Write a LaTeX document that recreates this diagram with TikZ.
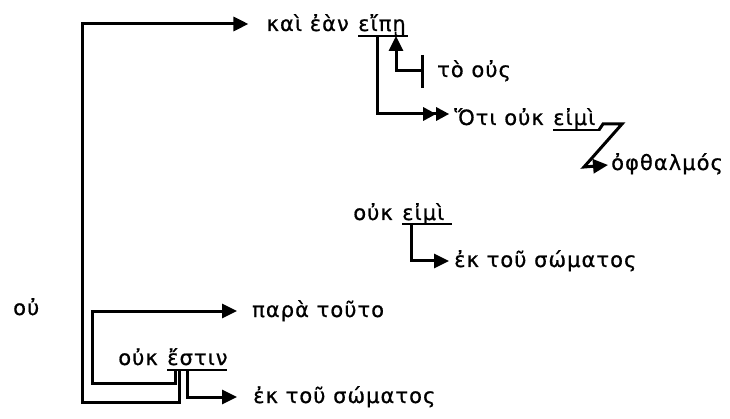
\documentclass[tikz,border=0pt]{standalone}
\usepackage{fontspec}
\setmainfont[LetterSpace=5,FakeBold=0.8]{DejaVu Sans}
\usetikzlibrary{arrows.meta,calc}
\begin{document}
\begin{tikzpicture}[x=1pt,y=-1pt,
  lbl/.style={inner sep=0pt,anchor=base west,font=\fontsize{21}{24}\selectfont},
  pre/.style={lbl,anchor=base east},
  conn/.style={line width=3pt},
  arr/.style={conn,-{Triangle[length=15pt,width=14pt]}},
  darr/.style={conn,-{Triangle[length=13pt,width=13pt]Triangle[length=13pt,width=13pt]}},
  ul/.style={line width=1.4pt}]
\useasboundingbox (0,0) rectangle (730,419);
% texts
\node[lbl] (eipe)  at (358,31)  {εἴπῃ};
\node[pre] (kai)   at ($(eipe.base west)+(-9,0)$) {καὶ ἐὰν};
\node[lbl] (to)    at (437,77)  {τὸ οὐς};
\node[lbl] (eimiA) at (553,125) {εἰμὶ};
\node[pre] (oti)   at ($(eimiA.base west)+(-9,0)$) {Ὅτι οὐκ};
\node[lbl] (oph)   at (611,170) {ὀφθαλμός};
\node[lbl] (eimiB) at (402,220) {εἰμὶ};
\node[pre] (oukB)  at ($(eimiB.base west)+(-9,0)$) {οὐκ};
\node[lbl] (ekA)   at (454,267) {ἐκ τοῦ σώματος};
\node[lbl] (ou)    at (13,315)  {οὐ};
\node[lbl] (para)  at (252,317) {παρὰ τοῦτο};
\node[lbl] (estin) at (167,365) {ἔστιν};
\node[pre] (oukC)  at ($(estin.base west)+(-9,0)$) {οὐκ};
\node[lbl] (ekB)   at (253,403) {ἐκ τοῦ σώματος};
% underlines
\draw[ul] ($(eipe.base west)+(0,5)$) -- ++(50,0);
\draw[ul] ($(eimiA.base west)+(0,5)$) -- ++(47,0);
\draw[ul] ($(eimiB.base west)+(0,4)$) -- ++(50,0);
\draw[ul] ($(estin.base west)+(0,5)$) -- ++(60,0);
% connectors
\draw[arr] ($(estin.base west)+(12,5)$) |- (82,402) |- ($(kai.base west)+(-18,-7)$);
\draw[arr] ($(estin.base west)+(8,5)$) |- (92,383) |- ($(para.base west)+(-15,-6)$);
\draw[arr] ($(estin.base west)+(20,5)$) |- ($(ekB.base west)+(-16,-6)$);
\draw[darr] ($(eipe.base west)+(19,5)$) |- ($(oti.base west)+(-5,-11)$);
\draw[conn] ($(to.base west)+(-15,-22)$) -- ++(0,33);
\draw[arr] ($(to.base west)+(-15,-6)$) -| ($(eipe.base west)+(38,5)$);
\draw[arr] ($(eimiA.base west)+(46,5)$) -- ++(4,-6) -- ++(19,0) -- ++(-38,43) -- ($(oph.base west)+(-3,-5)$);
\draw[arr] ($(eimiB.base west)+(9,4)$) |- ($(ekA.base west)+(-5,-6)$);
\end{tikzpicture}
\end{document}
